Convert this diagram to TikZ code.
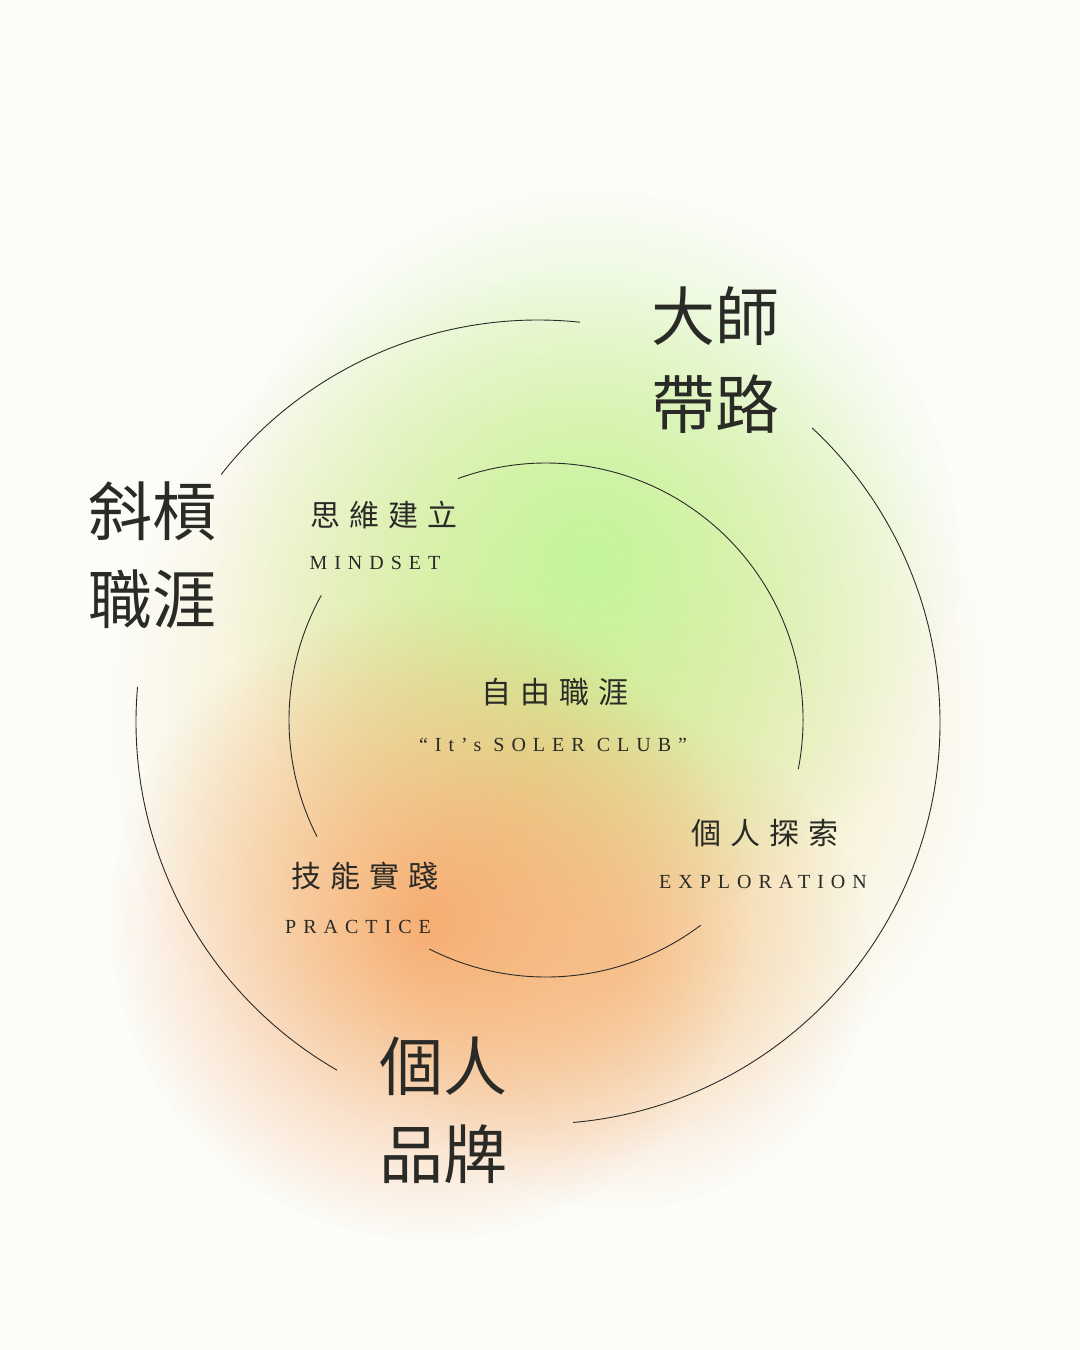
\documentclass[tikz,border=0pt]{standalone}
\usepackage{fontspec}
\usetikzlibrary{calc,fadings}
\newfontfamily\cjkbig{Noto Sans CJK TC}[Scale=1]
\newfontfamily\cjkwide{Noto Sans CJK TC}[LetterSpace=30]
\newfontfamily\capsfont{Liberation Serif}[LetterSpace=35]
\definecolor{paper}{HTML}{FCFCF8}
\definecolor{ink}{HTML}{2A2A26}
\definecolor{glowgreen}{HTML}{C4F59A}
\definecolor{gloworange}{HTML}{F7A86A}
\definecolor{glowyellow}{HTML}{EBD77E}
\tikzfading[name=soft, inner color=transparent!0, outer color=transparent!100]
\begin{document}
\begin{tikzpicture}[x=0.5pt,y=-0.5pt]
  \tikzset{ring/.style={ink,line width=0.45pt},
    bigtag/.style={text=ink,font=\cjkbig\fontsize{32}{40}\selectfont,align=center,inner sep=0pt},
    smalltag/.style={text=ink,font=\cjkwide\fontsize{15}{18}\selectfont,inner sep=0pt},
    entag/.style={text=ink,font=\capsfont\fontsize{10}{12}\selectfont,inner sep=0pt}}
  \fill[paper] (0,0) rectangle (1080,1350);
  \useasboundingbox (0,0) rectangle (1080,1350);
  % glow
  \fill[glowyellow,path fading=soft,opacity=0.8] (550,720) circle (440);
  \fill[glowgreen,path fading=soft] (590,560) circle (370);
  \fill[gloworange,path fading=soft,opacity=0.9] (430,920) circle (320);
  \fill[gloworange,path fading=soft,opacity=0.5] (620,960) circle (250);
  % rings
  \coordinate (oc) at (538,722);
  \coordinate (ic) at (546,720);
  \draw[ring] ($(oc)+(-84:402)$) arc[start angle=-84,end angle=-142,radius=402];
  \draw[ring] ($(oc)+(-175:402)$) arc[start angle=-175,end angle=-240,radius=402];
  \draw[ring] ($(oc)+(-275:402)$) arc[start angle=-275,end angle=-407,radius=402];
  \draw[ring] ($(ic)+(11:257)$) arc[start angle=11,end angle=-110,radius=257];
  \draw[ring] ($(ic)+(-151:257)$) arc[start angle=-151,end angle=-207,radius=257];
  \draw[ring] ($(ic)+(-243:257)$) arc[start angle=-243,end angle=-307,radius=257];
  % outer labels
  \node[bigtag] (master) at (715,360) {大師\\[4pt]帶路};
  \node[bigtag] (slash) at (152,555) {斜槓\\[4pt]職涯};
  \node[bigtag] (brand) at (443,1110) {個人\\[4pt]品牌};
  % inner labels
  \node[smalltag] (mind) at (384,515) {思維建立};
  \node[entag] (minden) at (375,563) {MINDSET};
  \node[smalltag] (free) at (555,692) {自由職涯};
  \node[entag] (club) at (553,745) {“It’s SOLER CLUB”};
  \node[smalltag] (explore) at (765,833) {個人探索};
  \node[entag] (exploreen) at (763,882) {EXPLORATION};
  \node[smalltag] (skill) at (365,876) {技能實踐};
  \node[entag] (skillen) at (358,927) {PRACTICE};
\end{tikzpicture}
\end{document}
